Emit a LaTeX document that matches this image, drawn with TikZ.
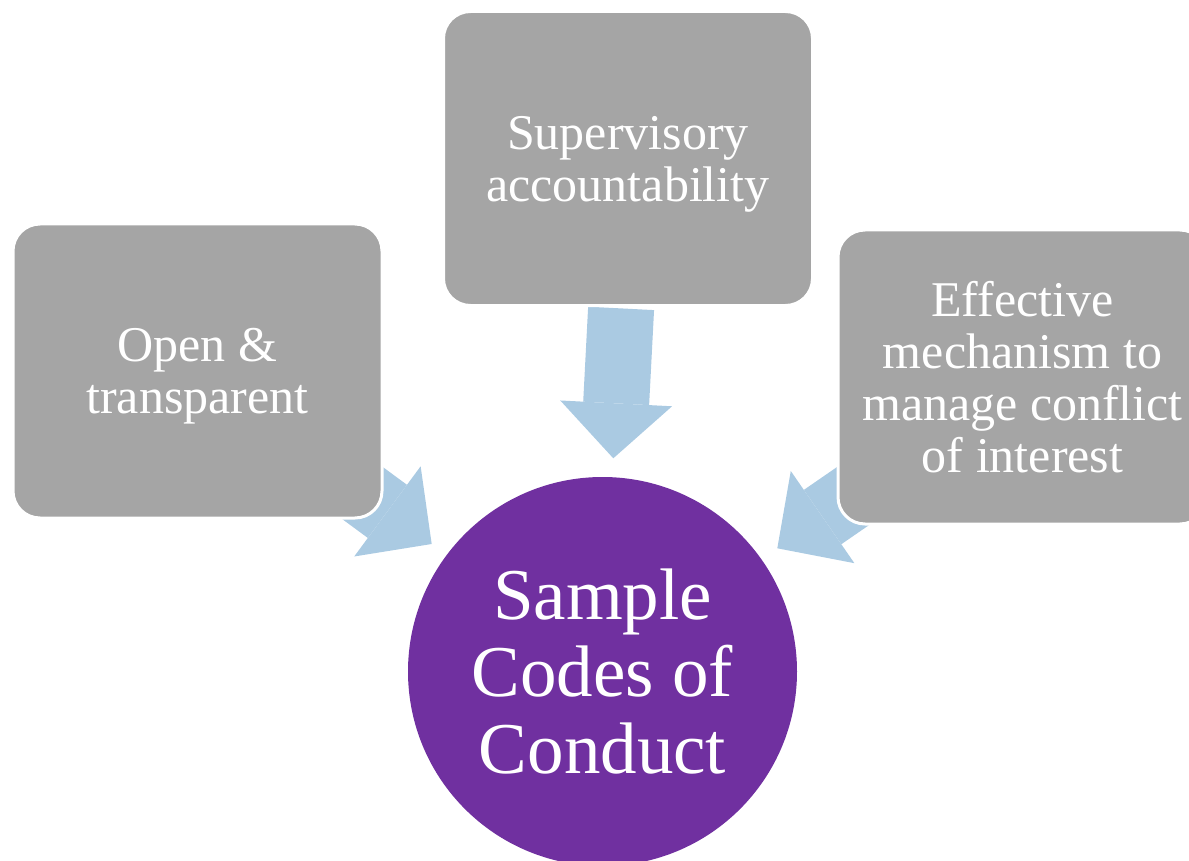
\documentclass[tikz,border=0pt]{standalone}
\usepackage{fontspec}
\setmainfont{Liberation Serif}
\usetikzlibrary{arrows.meta,backgrounds}
\definecolor{boxgray}{HTML}{A5A5A5}
\definecolor{arrowblue}{HTML}{AACAE2}
\definecolor{corepurple}{HTML}{7030A0}
\begin{document}
\begin{tikzpicture}[x=1pt, y=-1pt,
    item/.style={rectangle, rounded corners=27pt, fill=boxgray, draw=white, line width=3pt, minimum width=369pt, minimum height=294pt, text depth=0pt, text=white, align=center, font=\fontsize{50}{52}\selectfont},
    core/.style={circle, fill=corepurple, minimum size=389pt, inner sep=0pt, text=white, align=center, font=\fontsize{73}{77}\selectfont},
    bigarrow/.style={color=arrowblue, line width=66pt, line cap=butt, -{Triangle[length=55pt, width=112pt, line width=0pt]}}]
    \useasboundingbox (0,0) rectangle (1189,861);

    % Boxes
    \node[item] (open) at (197.5,371) {Open \&\\transparent};
    \node[item] (superv) at (628,158.5) {Supervisory\\accountability};
    \node[item] (conflict) at (1022.5,377) {Effective\\mechanism to\\manage conflict\\of interest};

    % Centre
    \node[core] (code) at (602.5,671.5) {Sample\\Codes of\\Conduct};

    % Arrow ends
    \coordinate (openTail) at (302.7,449);
    \coordinate (openTip) at (431.7,544);
    \coordinate (supervTail) at (621.1,308.4);
    \coordinate (supervTip) at (613.3,458.3);
    \coordinate (conflictTail) at (909.1,457.4);
    \coordinate (conflictTip) at (777.3,548.3);

    % Arrows
    \begin{scope}[on background layer]
        \foreach \n in {open,superv,conflict}
            \draw[bigarrow] (\n Tail) -- (\n Tip);
    \end{scope}
\end{tikzpicture}
\end{document}
